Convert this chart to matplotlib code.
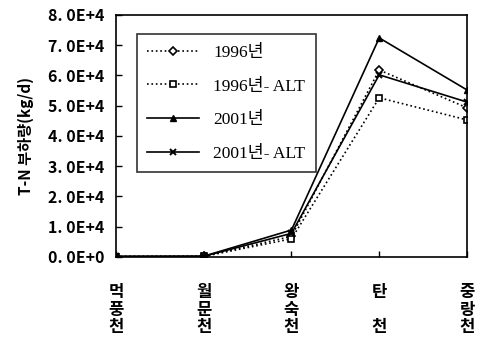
import numpy as np
import matplotlib
matplotlib.use("Agg")
import matplotlib.pyplot as plt

plt.rcParams['font.family'] = ['Noto Sans CJK KR', 'DejaVu Sans']

streams = ["먹\n풍\n천", "월\n문\n천", "왕\n숙\n천", "탄\n\n천", "중\n랑\n천"]
y1996 = [150, 200, 6800, 61800, 49300]
y1996_alt = [120, 180, 6000, 52600, 45300]
y2001 = [200, 250, 8900, 72400, 55200]
y2001_alt = [180, 220, 7800, 60200, 51200]
yticks = [0, 1e4, 2e4, 3e4, 4e4, 5e4, 6e4, 7e4, 8e4]
ytick_labels = ["0. 0E+0", "1. 0E+4", "2. 0E+4", "3. 0E+4", "4. 0E+4",
                "5. 0E+4", "6. 0E+4", "7. 0E+4", "8. 0E+4"]

fig = plt.figure(figsize=(4.79, 3.39), dpi=100)
ax = fig.add_axes([0.242, 0.242, 0.733, 0.714])
x = np.arange(len(streams))

ax.plot(x, y1996, ls=':', color='black', lw=1.2, marker='D', ms=4,
        mfc='white', mec='black', mew=1.2, label='1996년')
ax.plot(x, y1996_alt, ls=':', color='black', lw=1.2, marker='s', ms=5,
        mfc='white', mec='black', mew=1.2, label='1996년- ALT')
ax.plot(x, y2001, ls='-', color='black', lw=1.2, marker='^', ms=5,
        mfc='black', mec='black', label='2001년')
ax.plot(x, y2001_alt, ls='-', color='black', lw=1.2, marker='x', ms=5,
        mec='black', mew=1.4, label='2001년- ALT')

ax.set_xlim(0, len(streams) - 1)
ax.set_ylim(0, 8e4)
ax.set_xticks(x)
ax.set_xticklabels(streams, fontsize=12, fontweight='bold', linespacing=0.95)
ax.set_yticks(yticks)
ax.set_yticklabels(ytick_labels, fontsize=11.5, fontweight='bold')
ax.tick_params(direction='in', length=4, width=1, pad=8)
ax.tick_params(axis='x', pad=19)
for s in ax.spines.values():
    s.set_linewidth(1.2)
ax.set_ylabel("T-N 부하량(kg/d)", fontsize=11, fontweight='bold', labelpad=10)

leg = ax.legend(loc='upper left', bbox_to_anchor=(0.035, 0.955), frameon=True,
                fancybox=False, edgecolor='black', handlelength=3.0,
                borderpad=0.6, labelspacing=1.0,
                prop={'family': ['Liberation Serif', 'Noto Sans CJK KR'],
                      'size': 12.5})
leg.get_frame().set_linewidth(1.2)

fig.savefig("out.png", dpi=100)
